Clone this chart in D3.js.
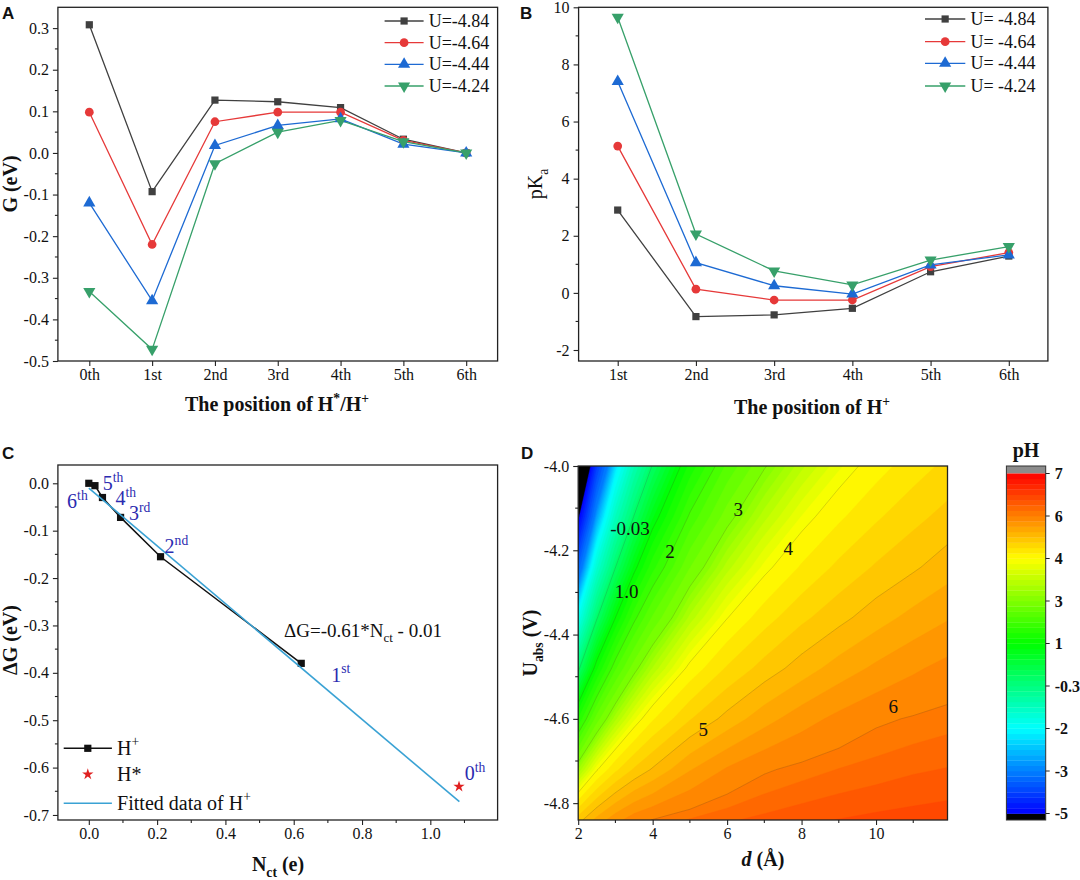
<!DOCTYPE html>
<html><head><meta charset="utf-8">
<script src="https://cdn.jsdelivr.net/npm/d3@7"></script>
<style>
body{margin:0;background:#fff;}
svg{display:block;}
text{font-family:"Liberation Serif","Times New Roman",serif;fill:#111;}
.axis text{font-size:16px;fill:#111;font-family:"Liberation Serif","Times New Roman",serif;}
.axis line{stroke:#222;stroke-width:1.1;}
.plab{font-family:"Liberation Sans",Arial,sans-serif;font-weight:bold;font-size:17px;}
</style></head><body>
<svg id="chart" width="1080" height="880"></svg>
<script>
// ---------------- DATA ----------------
// Panel A
const positionsA = ["0th","1st","2nd","3rd","4th","5th","6th"];
const namesA = ["U=-4.84","U=-4.64","U=-4.44","U=-4.24"];
const gA_484 = [0.308,-0.093,0.127,0.123,0.109,0.033,0.000];
const gA_464 = [0.098,-0.220,0.075,0.098,0.098,0.030,0.000];
const gA_444 = [-0.120,-0.355,0.018,0.066,0.082,0.021,0.000];
const gA_424 = [-0.333,-0.472,-0.026,0.050,0.078,0.027,0.000];
const yTicksA = [-0.5,-0.4,-0.3,-0.2,-0.1,0.0,0.1,0.2,0.3];
// Panel B
const positionsB = ["1st","2nd","3rd","4th","5th","6th"];
const namesB = ["U= -4.84","U= -4.64","U= -4.44","U= -4.24"];
const pka_484 = [2.90,-0.83,-0.77,-0.54,0.74,1.29];
const pka_464 = [5.14,0.13,-0.25,-0.25,0.92,1.41];
const pka_444 = [7.40,1.06,0.25,-0.04,0.98,1.33];
const pka_424 = [9.65,2.06,0.77,0.28,1.15,1.62];
const yTicksB = [-2,0,2,4,6,8,10];
// Panel C
const nctH = [0.000,0.018,0.040,0.093,0.210,0.622];
const dGH  = [0.000,-0.005,-0.030,-0.072,-0.155,-0.380];
const nctStar = [1.084];
const dGStar = [-0.640];
const fitX = [0.000,1.085];
const fitY = [-0.010,-0.672];
const labelNumC = ["6","5","4","3","2","1","0"];
const labelSupC = ["th","th","th","rd","nd","st","th"];
const labelXC = [-0.0635,0.0405,0.0778,0.118,0.222,0.710,1.101];
const labelYC = [-0.0528,-0.0141,-0.0458,-0.0774,-0.1477,-0.4186,-0.626];
const xTicksC = [0.0,0.2,0.4,0.6,0.8,1.0];
const yTicksC = [-0.7,-0.6,-0.5,-0.4,-0.3,-0.2,-0.1,0.0];
// Panel D  (pH on a grid of d and U_abs)
const dGrid = [2,2.5,3,3.5,4,5,6,7,8,9,10,11,12];
const uGrid = [-4.84,-4.72,-4.60,-4.48,-4.36,-4.24,-4.12,-4.00];
const phGrid = [
 [4.89,5.34,5.66,5.89,6.01,6.14,6.23,6.29,6.34,6.38,6.41,6.43,6.45],
 [3.25,3.97,4.44,4.78,5.03,5.48,5.78,5.97,6.06,6.13,6.18,6.23,6.26],
 [1.51,2.63,3.34,3.84,4.22,4.73,5.09,5.40,5.64,5.82,5.96,6.02,6.07],
 [-0.13,1.20,2.21,2.89,3.39,4.08,4.53,4.85,5.12,5.36,5.55,5.71,5.84],
 [-1.80,-0.07,1.00,1.91,2.54,3.42,3.99,4.39,4.69,4.92,5.14,5.33,5.49],
 [-3.47,-1.41,-0.04,0.88,1.66,2.74,3.44,3.92,4.28,4.56,4.78,4.96,5.15],
 [-5.14,-2.75,-1.15,-0.01,0.79,2.06,2.88,3.45,3.88,4.20,4.46,4.67,4.85],
 [-6.86,-4.08,-2.27,-0.97,0.01,1.33,2.31,2.97,3.46,3.84,4.14,4.38,4.58]
];
const cbTicks = [-5,-3,-2,-0.3,1,3,4,6,7];
const cbTickLabels = ["-5","-3","-2","-0.3","1","3","4","6","7"];
const contourLabelText = ["-0.03","1.0","2","3","4","5","6"];
const contourLabelLevel = [-0.03,1,2,3,4,5,6];
const contourLabelD = [3.39,3.30,4.465,6.30,7.64,5.36,10.46];
const contourLabelU = [-4.148,-4.298,-4.203,-4.104,-4.195,-4.626,-4.571];
const xTicksD = [2,4,6,8,10];
const yTicksD = [-4.8,-4.6,-4.4,-4.2,-4.0];

// ---------------- HELPERS ----------------
const svg = d3.select("#chart");
const colorsAB = ["#404040","#e63939","#1d6ad3","#37a06a"];
const markerDefs = [
  {type:d3.symbolSquare,size:52,rot:0},
  {type:d3.symbolCircle,size:60,rot:0},
  {type:d3.symbolTriangle,size:64,rot:0},
  {type:d3.symbolTriangle,size:64,rot:180}];

function rich(textSel, parts, base){
  let shift = 0;
  parts.forEach(([t,k])=>{
    const target = k==="sup" ? -0.42*base : (k==="sub" ? 0.3*base : 0);
    const ts = textSel.append("tspan").text(t).attr("dy", target - shift);
    if (k) ts.attr("font-size", base*0.68);
    shift = target;
  });
  return textSel;
}
function frame(g,P){
  g.append("rect").attr("x",P.x0).attr("y",P.y0).attr("width",P.x1-P.x0).attr("height",P.y1-P.y0)
   .attr("fill","none").attr("stroke","#222").attr("stroke-width",1.3);
}
function axes(g,P,x,y,o){
  const ax = g.append("g").attr("class","axis").attr("transform",`translate(0,${P.y1})`)
    .call(d3.axisBottom(x).tickValues(o.xMajor).tickFormat(o.xFmt).tickSize(5).tickPadding(3));
  ax.select(".domain").remove();
  const ay = g.append("g").attr("class","axis").attr("transform",`translate(${P.x0},0)`)
    .call(d3.axisLeft(y).tickValues(o.yMajor).tickFormat(o.yFmt).tickSize(5).tickPadding(4));
  ay.select(".domain").remove();
  if (o.xMinor) g.append("g").selectAll("line").data(o.xMinor).join("line")
    .attr("x1",d=>x(d)).attr("x2",d=>x(d)).attr("y1",P.y1).attr("y2",P.y1+3)
    .attr("stroke","#222").attr("stroke-width",1.1);
  if (o.yMinor) g.append("g").selectAll("line").data(o.yMinor).join("line")
    .attr("y1",d=>y(d)).attr("y2",d=>y(d)).attr("x1",P.x0).attr("x2",P.x0-3)
    .attr("stroke","#222").attr("stroke-width",1.1);
}
function drawMarker(g,i,cx,cy,color){
  const m = markerDefs[i];
  g.append("path").attr("d",d3.symbol().type(m.type).size(m.size)())
   .attr("transform",`translate(${cx},${cy}) rotate(${m.rot})`).attr("fill",color);
}
function panelLabel(t,x,y){ svg.append("text").attr("class","plab").attr("x",x).attr("y",y).text(t); }

// ---------------- PANEL A & B ----------------
function linePanel(P, cats, series, names, yDom, yMajor, yMinor, yFmt, xIndexStart, leg){
  const g = svg.append("g");
  const x = d3.scaleLinear().domain([xIndexStart-0.5, xIndexStart+cats.length-0.5]).range([P.x0,P.x1]);
  const y = d3.scaleLinear().domain(yDom).range([P.y1,P.y0]);
  const idx = d3.range(xIndexStart, xIndexStart+cats.length);
  axes(g,P,x,y,{xMajor:idx, xFmt:(d)=>cats[d-xIndexStart], yMajor, yMinor, yFmt});
  series.forEach((vals,si)=>{
    const line = d3.line().x((d,i)=>x(idx[i])).y(d=>y(d));
    g.append("path").attr("d",line(vals)).attr("fill","none").attr("stroke",colorsAB[si]).attr("stroke-width",1.3);
  });
  series.forEach((vals,si)=>{
    vals.forEach((v,i)=>drawMarker(g,si,x(idx[i]),y(v),colorsAB[si]));
  });
  frame(g,P);
  // legend
  names.forEach((n,si)=>{
    const yy = leg.y[si];
    g.append("line").attr("x1",leg.x0).attr("x2",leg.x1).attr("y1",yy).attr("y2",yy)
     .attr("stroke",colorsAB[si]).attr("stroke-width",1.3);
    drawMarker(g,si,(leg.x0+leg.x1)/2,yy,colorsAB[si]);
    g.append("text").attr("x",leg.tx).attr("y",yy+6).attr("font-size",18).text(n);
  });
  return {g,x,y};
}

const PA = {x0:57.9,x1:497.6,y0:7.3,y1:361};
const A = linePanel(PA, positionsA, [gA_484,gA_464,gA_444,gA_424], namesA, [-0.5,0.35], yTicksA,
  d3.range(-9,7,2).map(k=>k*0.05), d=>d.toFixed(1), 0,
  {x0:384.6,x1:423.6,tx:428.7,y:[21,42.7,64.3,86]});
rich(A.g.append("text").attr("x",277).attr("y",411).attr("text-anchor","middle").attr("font-size",20).attr("font-weight","bold"),
  [["The position of H",""],["*","sup"],["/H",""],["+","sup"]],20);
A.g.append("text").attr("transform","translate(17,184) rotate(-90)").attr("text-anchor","middle")
  .attr("font-size",20).attr("font-weight","bold").text("G (eV)");
panelLabel("A",2,19);

const PB = {x0:578.6,x1:1047.9,y0:7.3,y1:361};
const B = linePanel(PB, positionsB, [pka_484,pka_464,pka_444,pka_424], namesB, [-2.385,10], yTicksB,
  [-1,1,3,5,7,9], d=>String(d), 1,
  {x0:925,x1:965.3,tx:970.4,y:[19,41.7,63.3,86]});
rich(B.g.append("text").attr("x",812).attr("y",414).attr("text-anchor","middle").attr("font-size",20).attr("font-weight","bold"),
  [["The position of H",""],["+","sup"]],20);
rich(B.g.append("text").attr("transform","translate(542,184) rotate(-90)").attr("text-anchor","middle").attr("font-size",20),
  [["pK",""],["a","sub"]],20);
panelLabel("B",520,19);

// ---------------- PANEL C ----------------
(function(){
  const P = {x0:57.9,x1:497.6,y0:465,y1:820};
  const g = svg.append("g");
  const x = d3.scaleLinear().domain([-0.0905,1.197]).range([P.x0,P.x1]);
  const y = d3.scaleLinear().domain([-0.7106,0.0386]).range([P.y1,P.y0]);
  axes(g,P,x,y,{xMajor:xTicksC,xFmt:d=>d.toFixed(1),xMinor:[0.1,0.3,0.5,0.7,0.9,1.1],
    yMajor:yTicksC,yFmt:d=>d.toFixed(1),yMinor:d3.range(-13,0,2).map(k=>k*0.05)});
  const blue = "#3aa2d4";
  g.append("path").attr("d",d3.line().x((d,i)=>x(nctH[i])).y(d=>y(d))(dGH))
   .attr("fill","none").attr("stroke","#111").attr("stroke-width",1.5);
  nctH.forEach((v,i)=>g.append("rect").attr("x",x(v)-3.6).attr("y",y(dGH[i])-3.6).attr("width",7.2).attr("height",7.2).attr("fill","#111"));
  g.append("path").attr("d",d3.line().x((d,i)=>x(fitX[i])).y(d=>y(d))(fitY))
   .attr("fill","none").attr("stroke",blue).attr("stroke-width",1.6);
  nctStar.forEach((v,i)=>g.append("path").attr("d",d3.symbol().type(d3.symbolStar).size(40)())
   .attr("transform",`translate(${x(v)},${y(dGStar[i])})`).attr("fill","#e02020"));
  labelNumC.forEach((n,i)=>{
    rich(g.append("text").attr("x",x(labelXC[i])).attr("y",y(labelYC[i])).attr("font-size",20).style("fill","#2b2bb0"),
      [[n,""],[labelSupC[i],"sup"]],20);
  });
  rich(g.append("text").attr("x",x(0.5717)).attr("y",y(-0.3237)).attr("font-size",19),
    [["\u0394G=-0.61*N",""],["ct","sub"],[" - 0.01",""]],19);
  frame(g,P);
  // legend
  g.append("line").attr("x1",63.7).attr("x2",111.9).attr("y1",748.3).attr("y2",748.3).attr("stroke","#111").attr("stroke-width",1.5);
  g.append("rect").attr("x",87.8-3.6).attr("y",748.3-3.6).attr("width",7.2).attr("height",7.2).attr("fill","#111");
  rich(g.append("text").attr("x",117.1).attr("y",748.3+6.5).attr("font-size",20),[["H",""],["+","sup"]],20);
  g.append("path").attr("d",d3.symbol().type(d3.symbolStar).size(40)()).attr("transform","translate(87.8,774.3)").attr("fill","#e02020");
  g.append("text").attr("x",117.1).attr("y",774.3+6.5).attr("font-size",20).text("H*");
  g.append("line").attr("x1",63.7).attr("x2",111.9).attr("y1",803.3).attr("y2",803.3).attr("stroke",blue).attr("stroke-width",1.6);
  rich(g.append("text").attr("x",117.1).attr("y",803.3+6.5).attr("font-size",20),[["Fitted data of H",""],["+","sup"]],20);
  // titles
  rich(g.append("text").attr("x",278).attr("y",871).attr("text-anchor","middle").attr("font-size",20).attr("font-weight","bold"),
    [["N",""],["ct","sub"],[" (e)",""]],20);
  g.append("text").attr("transform","translate(17,640) rotate(-90)").attr("text-anchor","middle")
    .attr("font-size",20).attr("font-weight","bold").text("\u0394G (eV)");
  panelLabel("C",2,459);
})();

// ---------------- PANEL D ----------------
(function(){
  const P = {x0:578.2,x1:947.5,y0:466,y1:820};
  const g = svg.append("g");
  const xD = d3.scaleLinear().domain([2,11.92]).range([P.x0,P.x1]);
  const yD = d3.scaleLinear().domain([-4.84,-4.0]).range([P.y1,P.y0]);
  const tpos = d3.scaleLinear().domain(cbTicks).range(cbTicks.map((d,i)=>i/(cbTicks.length-1)));
  const cmap = d3.scaleLinear().domain([0,0.25,0.5,0.75,1])
    .range(["#0000ff","#00ffff","#00ff00","#ffff00","#ff0000"]);
  const sub = 8;
  const levels = [];
  for (let i=0;i<cbTicks.length-1;i++) for (let k=0;k<sub;k++) levels.push(cbTicks[i]+(cbTicks[i+1]-cbTicks[i])*k/sub);
  levels.push(cbTicks[cbTicks.length-1]);
  const bandColor = (i)=> i<levels.length-1 ? cmap(tpos((levels[i]+levels[i+1])/2)) : "#8c8c8c";

  const dIdx = d3.scaleLinear().domain(d3.range(dGrid.length)).range(dGrid);
  const uIdx = d3.scaleLinear().domain(d3.range(uGrid.length)).range(uGrid);
  const proj = d3.geoTransform({point(px,py){ this.stream.point(xD(dIdx(px-0.5)), yD(uIdx(py-0.5))); }});
  const path = d3.geoPath(proj);
  const values = phGrid.flat();

  svg.append("clipPath").attr("id","clipD").append("rect")
    .attr("x",P.x0).attr("y",P.y0).attr("width",P.x1-P.x0).attr("height",P.y1-P.y0);
  const cg = g.append("g").attr("clip-path","url(#clipD)");
  cg.append("rect").attr("x",P.x0).attr("y",P.y0).attr("width",P.x1-P.x0).attr("height",P.y1-P.y0).attr("fill","#000");
  const conts = d3.contours().size([dGrid.length,uGrid.length]).thresholds(levels)(values);
  conts.forEach((c,i)=>{
    cg.append("path").attr("d",path(c)).attr("fill",bandColor(i)).attr("stroke",bandColor(i)).attr("stroke-width",0.4);
  });
  const lines = d3.contours().size([dGrid.length,uGrid.length]).thresholds(contourLabelLevel)(values);
  lines.forEach(c=>cg.append("path").attr("d",path(c)).attr("fill","none")
    .attr("stroke","rgba(60,60,30,0.28)").attr("stroke-width",0.7));
  contourLabelText.forEach((t,i)=>{
    g.append("text").attr("x",xD(contourLabelD[i])).attr("y",yD(contourLabelU[i])+6.5)
     .attr("text-anchor","middle").attr("font-size",19).text(t);
  });
  axes(g,P,xD,yD,{xMajor:xTicksD,xFmt:d=>String(d),xMinor:[3,5,7,9,11],
    yMajor:yTicksD,yFmt:d=>d.toFixed(1),yMinor:[-4.7,-4.5,-4.3,-4.1]});
  frame(g,P);
  rich(g.append("text").attr("transform","translate(537,643) rotate(-90)").attr("text-anchor","middle")
    .attr("font-size",20).attr("font-weight","bold"),[["U",""],["abs","sub"],[" (V)",""]],20);
  const xt = g.append("text").attr("x",763).attr("y",866).attr("text-anchor","middle").attr("font-size",20).attr("font-weight","bold");
  xt.append("tspan").attr("font-style","italic").text("d");
  xt.append("tspan").text(" (\u00C5)");
  panelLabel("D",521,459);

  // colorbar
  const cb = {x0:1006.4,x1:1045.7,y0:466,y1:820,c0:473.5,c1:813.5};
  const cbY = d3.scaleLinear().domain(cbTicks).range(cbTicks.map((d,i)=>cb.c1-(cb.c1-cb.c0)*i/(cbTicks.length-1)));
  const cbg = svg.append("g");
  cbg.append("rect").attr("x",cb.x0).attr("y",cb.y0).attr("width",cb.x1-cb.x0).attr("height",cb.c0-cb.y0).attr("fill","#8c8c8c");
  cbg.append("rect").attr("x",cb.x0).attr("y",cb.c1).attr("width",cb.x1-cb.x0).attr("height",cb.y1-cb.c1).attr("fill","#000");
  for (let i=0;i<levels.length-1;i++){
    const ya = cbY(levels[i+1]), yb = cbY(levels[i]);
    cbg.append("rect").attr("x",cb.x0).attr("y",ya).attr("width",cb.x1-cb.x0).attr("height",yb-ya+0.3).attr("fill",bandColor(i));
  }
  cbg.append("rect").attr("x",cb.x0).attr("y",cb.y0).attr("width",cb.x1-cb.x0).attr("height",cb.y1-cb.y0)
    .attr("fill","none").attr("stroke","#333").attr("stroke-width",1);
  cbTicks.forEach((v,i)=>{
    cbg.append("line").attr("x1",cb.x1).attr("x2",cb.x1+4).attr("y1",cbY(v)).attr("y2",cbY(v)).attr("stroke","#222");
    cbg.append("text").attr("x",cb.x1+9).attr("y",cbY(v)+5.5).attr("font-size",16).attr("font-weight","bold").text(cbTickLabels[i]);
  });
  cbg.append("text").attr("x",(cb.x0+cb.x1)/2).attr("y",457).attr("text-anchor","middle").attr("font-size",20).attr("font-weight","bold").text("pH");
})();
</script>
</body></html>
